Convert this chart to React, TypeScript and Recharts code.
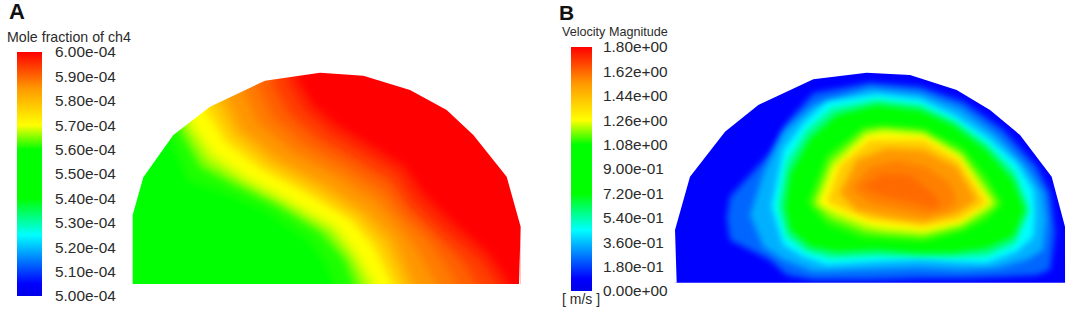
import React from 'react';
import { Area, Bar, BarChart, ComposedChart, XAxis, YAxis } from 'recharts';

// Scale definitions
const scaleStops: [number, string][] = [
  [0, '#0000e8'], [0.05, '#0000ff'], [0.25, '#00ffff'], [0.4, '#00ff00'], [0.6, '#00ff00'],
  [0.7, '#ffff00'], [0.85, '#ff9900'], [1, '#ff0000'],
];
const ticksA = [5e-4, 5.1e-4, 5.2e-4, 5.3e-4, 5.4e-4, 5.5e-4, 5.6e-4, 5.7e-4, 5.8e-4, 5.9e-4, 6e-4];
const tickLabelsA = ['5.00e-04', '5.10e-04', '5.20e-04', '5.30e-04', '5.40e-04', '5.50e-04', '5.60e-04', '5.70e-04', '5.80e-04', '5.90e-04', '6.00e-04'];
const ticksB = [0, 0.18, 0.36, 0.54, 0.72, 0.9, 1.08, 1.26, 1.44, 1.62, 1.8];
const tickLabelsB = ['0.00e+00', '1.80e-01', '3.60e-01', '5.40e-01', '7.20e-01', '9.00e-01', '1.08e+00', '1.26e+00', '1.44e+00', '1.62e+00', '1.80e+00'];

type Pt = [number, number, number];

// Panel A: outline of the section
const outlineA: Pt[] = [[0, 0, 699], [7.9, 0, 699], [8, 0, 465], [40, 0, 352], [130, 0, 225], [240, 0, 140], [405, 0, 62], [570, 0, 38], [700, 0, 47], [840, 0, 90], [950, 0, 150], [1030, 0, 225], [1130, 0, 350], [1172, 0, 500], [1172.1, 0, 699], [1200, 0, 699]];
const sliverA: Pt[] = [[1167, 672, 672], [1172, 500, 672]];
const floorA: Pt[] = [[0, 672, 699], [1200, 672, 699]];
const baseA: Pt[] = [[0, 0, 699], [1200, 0, 699]];

// Panel A: isolines [x, y]; the field above/right of the line is at least that level
const lineA1 = [[118, 240], [175, 365], [270, 395], [400, 450], [530, 540], [585, 610], [612, 672], [625, 699]];
const lineA2 = [[150, 212], [212, 322], [310, 372], [440, 435], [575, 520], [645, 600], [674, 672], [685, 699]];
const lineA3 = [[168, 200], [232, 300], [330, 360], [462, 428], [600, 510], [665, 590], [705, 672], [715, 699]];
const lineA4 = [[185, 188], [250, 280], [350, 350], [480, 420], [620, 500], [680, 580], [735, 672], [745, 699]];
const lineA5 = [[225, 150], [285, 245], [390, 325], [530, 400], [660, 478], [730, 560], [765, 630], [785, 672], [795, 699]];
const lineA6 = [[243, 137], [300, 232], [405, 315], [548, 392], [675, 471], [747, 552], [782, 622], [805, 672], [815, 699]];
const lineA7 = [[262, 125], [315, 220], [420, 305], [565, 385], [690, 465], [765, 545], [800, 615], [825, 672], [835, 699]];
const lineA8 = [[281, 117], [327, 210], [435, 297], [582, 377], [705, 457], [782, 537], [815, 607], [842, 672], [852, 699]];
const lineA9 = [[300, 110], [340, 200], [450, 290], [600, 370], [720, 450], [800, 530], [830, 600], [860, 672], [870, 699]];
const lineA10 = [[342, 97], [385, 187], [487, 272], [625, 347], [740, 422], [812, 502], [860, 567], [902, 640], [920, 672], [930, 699]];
const lineA11 = [[385, 85], [430, 175], [525, 255], [650, 325], [760, 395], [825, 475], [890, 535], [945, 610], [980, 672], [990, 699]];
const lineA12 = [[428, 75], [475, 162], [562, 237], [675, 302], [780, 367], [837, 447], [910, 517], [997, 605], [1040, 672], [1050, 699]];
const lineA13 = [[470, 65], [520, 150], [600, 220], [700, 280], [800, 340], [850, 420], [930, 500], [1050, 600], [1100, 672], [1110, 699]];
const lineA14 = [[500, 50], [545, 130], [620, 195], [720, 255], [825, 320], [880, 400], [960, 480], [1075, 580], [1130, 660], [1145, 699]];
const linesA = [lineA1, lineA2, lineA3, lineA4, lineA5, lineA6, lineA7, lineA8, lineA9, lineA10, lineA11, lineA12, lineA13, lineA14];
const coloursA = ['#1aff00', '#80ff00', '#ccff00', '#ffff00', '#ffdd00', '#ffca00', '#ffb800', '#ffa600', '#ff9500', '#ff7a00', '#ff6000', '#ff4000', '#ff2000', '#ff0000'];

// Panel B: outline
const outlineB: Pt[] = [[0, 0, 699], [14.9, 0, 699], [15, 0, 510], [60, 0, 350], [165, 0, 215], [265, 0, 135], [430, 0, 58], [590, 0, 38], [720, 0, 45], [860, 0, 90], [960, 0, 150], [1050, 0, 225], [1145, 0, 350], [1185, 0, 500], [1185.1, 0, 699], [1206, 0, 699]];
const sliverB: Pt[] = [[15, 510, 668], [20, 668, 668]];
const floorB: Pt[] = [[0, 668, 699], [1206, 668, 699]];
const baseB: Pt[] = [[0, 0, 699], [1206, 0, 699]];

// Panel B: closed isolines [x, upper y, lower y]
const ringB1: Pt[] = [[170, 475, 475], [180, 410, 540], [300, 280, 600], [350, 190, 645], [430, 100, 660], [600, 68, 660], [750, 80, 655], [880, 125, 655], [1000, 210, 650], [1100, 320, 645], [1140, 400, 630], [1155, 520, 520]];
const ringB2: Pt[] = [[240, 465, 465], [280, 340, 560], [340, 215, 600], [430, 135, 635], [600, 85, 630], [750, 100, 625], [870, 145, 630], [980, 225, 625], [1070, 320, 600], [1120, 400, 570], [1130, 480, 480]];
const ringB3: Pt[] = [[305, 440, 440], [340, 270, 555], [400, 190, 590], [470, 125, 615], [620, 103, 605], [750, 118, 598], [850, 165, 605], [950, 230, 610], [1040, 310, 575], [1090, 390, 530], [1095, 460, 460]];
const ringB4: Pt[] = [[325, 440, 440], [350, 305, 530], [410, 210, 575], [485, 145, 595], [620, 119, 588], [750, 134, 590], [850, 180, 592], [950, 250, 588], [1035, 335, 552], [1078, 450, 450]];
const ringB5: Pt[] = [[345, 440, 440], [360, 340, 510], [420, 235, 560], [500, 165, 575], [620, 135, 570], [750, 150, 580], [850, 195, 578], [950, 270, 565], [1030, 360, 530], [1065, 450, 450]];
const ringB6: Pt[] = [[412, 430, 430], [470, 285, 495], [580, 200, 535], [640, 195, 538], [760, 205, 545], [880, 265, 515], [950, 350, 480], [998, 432, 432]];
const ringB7: Pt[] = [[430, 430, 430], [480, 302, 475], [585, 212, 515], [640, 205, 522], [760, 215, 530], [875, 278, 502], [940, 365, 465], [982, 431, 431]];
const ringB8: Pt[] = [[445, 430, 430], [490, 320, 455], [590, 225, 495], [640, 215, 505], [760, 225, 515], [870, 290, 490], [930, 380, 450], [965, 430, 430]];
const ringB9: Pt[] = [[470, 425, 425], [510, 315, 445], [600, 240, 480], [760, 240, 500], [865, 300, 480], [925, 390, 445], [950, 428, 428]];
const ringB10: Pt[] = [[510, 400, 400], [560, 300, 450], [650, 265, 470], [760, 270, 485], [860, 320, 460], [920, 420, 420]];
const ringB11: Pt[] = [[545, 385, 385], [600, 320, 430], [680, 300, 445], [770, 320, 465], [840, 370, 445], [860, 420, 420]];
const ringB12: Pt[] = [[575, 380, 380], [640, 340, 410], [720, 345, 425], [790, 400, 445], [810, 430, 430]];
const ringsB = [ringB1, ringB2, ringB3, ringB4, ringB5, ringB6, ringB7, ringB8, ringB9, ringB10, ringB11, ringB12];
const coloursB = ['#0066ff', '#00b0ff', '#00ffff', '#00ff88', '#00ff00', '#33ff00', '#a0ff00', '#ffff00', '#ffcc00', '#ff9900', '#ff8000', '#ff6a00'];

const rows = (pts: Pt[]) => pts.map(([x, a, b]) => ({ x, range: [a, b] }));
const lineRows = (pts: number[][], right: number) =>
  rows([...pts.map(([x, y]) => [x, 0, y] as Pt), [right, 0, 699]]);

const FONT = '"Liberation Sans", Arial, sans-serif';

function Field({ id, left, width, xMax, base, baseFill, layers, colours, masks, sd }: any) {
  return (
    <div style={{ position: 'absolute', left, top: 60 }}>
      <ComposedChart width={width} height={233} margin={{ top: 0, right: 0, bottom: 0, left: 0 }}>
        <defs>
          <filter id={id} x="-30%" y="-30%" width="160%" height="160%">
            <feGaussianBlur stdDeviation={sd} />
          </filter>
        </defs>
        <XAxis type="number" dataKey="x" domain={[0, xMax]} hide />
        <YAxis type="number" domain={[0, 699]} reversed hide />
        <Area data={rows(base)} dataKey="range" type="linear" fill={baseFill} fillOpacity={1} stroke="none" dot={false} activeDot={false} isAnimationActive={false} />
        {layers.map((l: any[], i: number) => (
          <Area key={i} data={l} dataKey="range" type="linear" fill={colours[i]} fillOpacity={1} stroke="none" dot={false} activeDot={false} isAnimationActive={false} filter={`url(#${id})`} />
        ))}
        {masks.map((m: Pt[], i: number) => (
          <Area key={'m' + i} data={rows(m)} dataKey="range" type="linear" fill="#ffffff" fillOpacity={1} stroke="none" dot={false} activeDot={false} isAnimationActive={false} />
        ))}
      </ComposedChart>
    </div>
  );
}

function ColourBar({ id, left, top, ticks, labels, lo, hi, tickGap, margin }: any) {
  return (
    <div style={{ position: 'absolute', left, top }}>
      <BarChart
        width={110}
        height={264}
        data={[{ name: 'scale', range: [lo, hi] }]}
        margin={{ top: 10, right: 0, bottom: 10, left: 0 }}
        barCategoryGap={0}
      >
        <defs>
          <linearGradient id={id} x1="0" y1="1" x2="0" y2="0">
            {scaleStops.map(([o, c]) => (
              <stop key={o} offset={o} stopColor={c} />
            ))}
          </linearGradient>
        </defs>
        <XAxis dataKey="name" hide />
        <YAxis
          type="number"
          orientation="right"
          domain={[lo, hi]}
          ticks={ticks}
          interval={0}
          width={110 - tickGap}
          axisLine={false}
          tickLine={false}
          tickSize={0}
          tickMargin={margin}
          tickFormatter={(_: number, i: number) => labels[i]}
          tick={{ fontSize: 15.4, fontFamily: FONT, fill: '#2b2b2b' }}
        />
        <Bar dataKey="range" fill={`url(#${id})`} isAnimationActive={false} />
      </BarChart>
    </div>
  );
}

const txt = (left: number, top: number, size: number, s: string, bold = false) => (
  <div style={{ position: 'absolute', left, top, fontFamily: FONT, fontSize: size, lineHeight: 1, fontWeight: bold ? 700 : 400, color: bold ? '#111' : '#2b2b2b', whiteSpace: 'nowrap' }}>{s}</div>
);

export default function App() {
  return (
    <div style={{ position: 'absolute', left: 0, top: 0, width: 1072, height: 309, background: '#fff', overflow: 'hidden' }}>
      {txt(9, 1, 22, 'A', true)}
      {txt(7, 30, 14.2, 'Mole fraction of ch4')}
      <ColourBar id="gA" left={17} top={42} ticks={ticksA} labels={tickLabelsA} lo={5e-4} hi={6e-4} tickGap={25} margin={13} />
      <Field
        id="bA" left={130} width={400} xMax={1200} base={baseA} baseFill="#00ff00" sd={4}
        layers={linesA.map((l) => lineRows(l, 1200))} colours={coloursA}
        masks={[outlineA, sliverA, floorA]}
      />
      {txt(559, 2, 21, 'B', true)}
      {txt(562, 26, 12.6, 'Velocity Magnitude')}
      {txt(562, 292, 14, '[ m/s ]')}
      <ColourBar id="gB" left={571} top={37} ticks={ticksB} labels={tickLabelsB} lo={0} hi={1.8} tickGap={21} margin={11} />
      <Field
        id="bB" left={670} width={402} xMax={1206} base={baseB} baseFill="#0000ff" sd={3}
        layers={ringsB.map(rows)} colours={coloursB}
        masks={[outlineB, sliverB, floorB]}
      />
    </div>
  );
}
